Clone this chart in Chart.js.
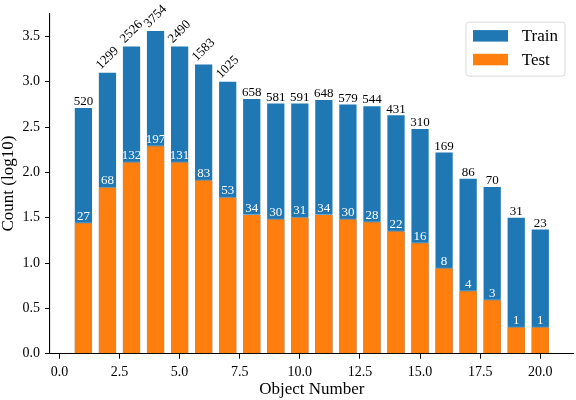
<!DOCTYPE html>
<html>
<head>
<meta charset="utf-8">
<script src="https://cdn.jsdelivr.net/npm/chart.js@4"></script>
<style>
  body { margin: 0; background: #fff; }
  #wrap { width: 576px; height: 400px; }
</style>
</head>
<body>
<div id="wrap"><canvas id="graph"></canvas></div>
<script>
// data (bar heights are log10 of count+1)
const objectNumbers = [1, 2, 3, 4, 5, 6, 7, 8, 9, 10, 11, 12, 13, 14, 15, 16, 17, 18, 19, 20];
const trainLog = [2.72, 3.11, 3.40, 3.57, 3.40, 3.20, 3.01, 2.82, 2.77, 2.77, 2.81, 2.76, 2.74, 2.64, 2.49, 2.23, 1.94, 1.85, 1.51, 1.38];
const testLog = [1.45, 1.84, 2.12, 2.30, 2.12, 1.92, 1.73, 1.54, 1.49, 1.51, 1.54, 1.49, 1.46, 1.36, 1.23, 0.95, 0.70, 0.60, 0.30, 0.30];
const trainCounts = ['520', '1299', '2526', '3754', '2490', '1583', '1025', '658', '581', '591', '648', '579', '544', '431', '310', '169', '86', '70', '31', '23'];
const testCounts = ['27', '68', '132', '197', '131', '83', '53', '34', '30', '31', '34', '30', '28', '22', '16', '8', '4', '3', '1', '1'];
const xTicksStep = 2.5;
const yTicksStep = 0.5;

const FONT = "'Liberation Serif', 'Times New Roman', serif";
const BLUE = '#1f77b4';
const ORANGE = '#ff7f0e';

// count labels on top of the bars
const barLabels = {
    id: 'barLabels',
    afterDatasetsDraw(chart) {
        const ctx = chart.ctx;
        ctx.save();
        ctx.font = '13px ' + FONT;

        const trainMeta = chart.getDatasetMeta(0);
        trainMeta.data.forEach((bar, i) => {
            const txt = trainCounts[i];
            ctx.fillStyle = '#000';
            if (txt.length > 3) {
                const w = ctx.measureText(txt).width;
                const side = (w + 12.5) * Math.SQRT1_2;
                ctx.save();
                ctx.translate(bar.x, bar.y - side / 2);
                ctx.rotate(-Math.PI / 4);
                ctx.textAlign = 'center';
                ctx.textBaseline = 'middle';
                ctx.fillText(txt, 0, 0);
                ctx.restore();
            } else {
                ctx.textAlign = 'center';
                ctx.textBaseline = 'alphabetic';
                ctx.fillText(txt, bar.x, bar.y - 1.8);
            }
        });

        const testMeta = chart.getDatasetMeta(1);
        testMeta.data.forEach((bar, i) => {
            ctx.fillStyle = '#fff';
            ctx.textAlign = 'center';
            ctx.textBaseline = 'alphabetic';
            ctx.fillText(testCounts[i], bar.x, bar.y - 2.5);
        });
        ctx.restore();
    }
};

// matplotlib-like legend box in the upper right
const boxLegend = {
    id: 'boxLegend',
    afterDraw(chart) {
        const ctx = chart.ctx;
        const area = chart.chartArea;
        const right = area.right - 8.7;
        const top = area.top + 8.7;
        const w = 99, h = 54;
        const left = right - w;
        ctx.save();
        ctx.beginPath();
        ctx.roundRect(left, top, w, h, 3);
        ctx.fillStyle = 'rgba(255,255,255,0.8)';
        ctx.fill();
        ctx.strokeStyle = '#d9d9d9';
        ctx.lineWidth = 1;
        ctx.stroke();

        ctx.font = '17px ' + FONT;
        ctx.textBaseline = 'middle';
        ctx.textAlign = 'left';
        chart.data.datasets.forEach((ds, i) => {
            const y = top + 8 + i * 23.7;
            ctx.fillStyle = ds.backgroundColor;
            ctx.fillRect(left + 7, y, 35, 11.5);
            ctx.fillStyle = '#000';
            ctx.fillText(ds.label, left + 55.7, y + 6.5);
        });
        ctx.restore();
    }
};

const ctx = document.getElementById('graph').getContext('2d');
new Chart(ctx, {
    type: 'bar',
    data: {
        datasets: [{
            label: 'Train',
            data: objectNumbers.map((n, i) => ({ x: n, y: trainLog[i] })),
            backgroundColor: BLUE,
            borderColor: 'rgba(255,255,255,0.35)',
            borderWidth: 1,
            grouped: false,
            order: 1
        }, {
            label: 'Test',
            data: objectNumbers.map((n, i) => ({ x: n, y: testLog[i] })),
            backgroundColor: ORANGE,
            borderColor: 'rgba(255,255,255,0.35)',
            borderWidth: 1,
            grouped: false,
            order: 0
        }]
    },
    options: {
        responsive: true,
        maintainAspectRatio: false,
        animation: false,
        barPercentage: 0.8,
        categoryPercentage: 1.0,
        layout: { padding: { left: 0, top: 7.3, right: 2.3, bottom: 0 } },
        plugins: {
            legend: { display: false },
            tooltip: { enabled: false }
        },
        scales: {
            x: {
                type: 'linear',
                min: -0.39,
                max: 21.39,
                offset: false,
                afterFit: (scale) => { scale.height = 46.3; },
                grid: { display: true, drawOnChartArea: false, drawTicks: true, tickLength: 5, tickWidth: 1, color: '#000', offset: false },
                border: { display: true, color: '#000', width: 1.1 },
                ticks: {
                    stepSize: xTicksStep,
                    includeBounds: false,
                    maxRotation: 0,
                    padding: 5.5,
                    color: '#000',
                    font: { family: FONT, size: 14 },
                    callback: (v) => v.toFixed(1)
                },
                title: {
                    display: true,
                    text: 'Object Number',
                    color: '#000',
                    font: { family: FONT, size: 17, lineHeight: 1 },
                    padding: { top: 0, bottom: 2.3 }
                }
            },
            y: {
                min: 0,
                max: 3.753,
                afterFit: (scale) => { scale.width = 50; },
                grid: { display: true, drawOnChartArea: false, drawTicks: true, tickLength: 5, tickWidth: 1, color: '#000' },
                border: { display: true, color: '#000', width: 1.1 },
                ticks: {
                    stepSize: yTicksStep,
                    includeBounds: false,
                    padding: 5,
                    color: '#000',
                    font: { family: FONT, size: 14 },
                    callback: (v) => v.toFixed(1)
                },
                title: {
                    display: true,
                    text: 'Count (log10)',
                    color: '#000',
                    font: { family: FONT, size: 17, lineHeight: 1 },
                    padding: { top: 0, bottom: 0 }
                }
            }
        }
    },
    plugins: [barLabels, boxLegend]
});
</script>
</body>
</html>
